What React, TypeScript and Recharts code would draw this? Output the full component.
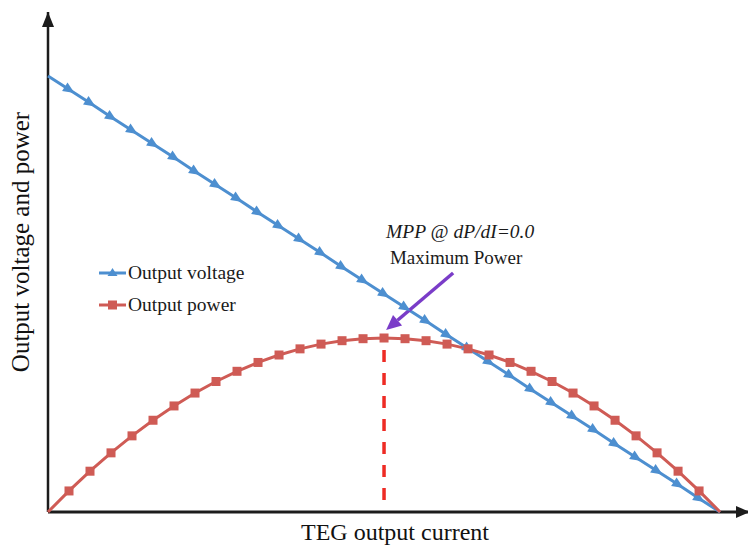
import { LineChart, Line, XAxis, YAxis, ReferenceLine, ReferenceDot, Legend } from "recharts";

// TEG characteristic: current steps (arbitrary units), voltage falls linearly, power is a parabola
const current = [
  0, 1, 2, 3, 4, 5, 6, 7, 8, 9, 10, 11, 12, 13, 14, 15, 16, 17, 18, 19, 20, 21, 22, 23, 24, 25, 26, 27, 28, 29,
  30, 31, 32,
];
const voltage = [
  87.2, 84.5, 81.8, 79.0, 76.3, 73.6, 70.9, 68.1, 65.4, 62.7, 59.9, 57.2, 54.5, 51.8, 49.0, 46.3, 43.6, 40.9,
  38.2, 35.4, 32.7, 30.0, 27.3, 24.5, 21.8, 19.1, 16.4, 13.6, 10.9, 8.2, 5.5, 2.7, 0,
];
const power = [
  0, 4.21, 8.16, 11.83, 15.23, 18.35, 21.21, 23.79, 26.1, 28.14, 29.91, 31.4, 32.63, 33.58, 34.26, 34.66, 34.8,
  34.66, 34.26, 33.58, 32.63, 31.4, 29.91, 28.14, 26.1, 23.79, 21.21, 18.35, 15.23, 11.83, 8.16, 4.21, 0,
];
const seriesOrder = ["voltage", "power"];

const mppCurrent = 16;
const mppPower = 34.8;

const data = current.map((c, i) => ({ current: c, voltage: voltage[i], power: power[i] }));

const BLUE = "#4d8fd0";
const RED = "#cf5b55";
const PURPLE = "#7a3cc8";
const AXIS = "#1c1c1c";
const FONT = "'Liberation Serif', 'Times New Roman', serif";

const lastIndex = current.length - 1;

const TriangleDot = (props: any) => {
  const { cx, cy, index } = props;
  if (index === 0 || index === lastIndex || cx == null) return <g key={`v${index}`} />;
  return (
    <polygon
      key={`v${index}`}
      points="6.5,0 -5,-5 -5,5"
      fill={BLUE}
      transform={`translate(${cx},${cy}) rotate(33)`}
    />
  );
};

const SquareDot = (props: any) => {
  const { cx, cy, index } = props;
  if (index === 0 || index === lastIndex || cx == null) return <g key={`p${index}`} />;
  return <rect key={`p${index}`} x={cx - 4.5} y={cy - 4.5} width={9} height={9} fill={RED} />;
};

const UpArrowHead = (props: any) => (
  <polygon points={`${props.cx},${props.cy} ${props.cx - 6},${props.cy + 15} ${props.cx + 6},${props.cy + 15}`} fill={AXIS} />
);

const RightArrowHead = (props: any) => (
  <polygon points={`${props.cx + 2},${props.cy} ${props.cx - 12},${props.cy - 6} ${props.cx - 12},${props.cy + 6}`} fill={AXIS} />
);

// purple pointer from the caption down to the maximum power point
const MppPointer = (props: any) => {
  const { x1, y1, x2, y2 } = props;
  const ang = Math.atan2(y2 - y1, x2 - x1);
  const head = 15;
  const half = 7;
  const bx = x2 - head * Math.cos(ang);
  const by = y2 - head * Math.sin(ang);
  const nx = -Math.sin(ang);
  const ny = Math.cos(ang);
  return (
    <g>
      <line x1={x1} y1={y1} x2={bx} y2={by} stroke={PURPLE} strokeWidth={3.5} />
      <polygon
        points={`${x2},${y2} ${bx + nx * half},${by + ny * half} ${bx - nx * half},${by - ny * half}`}
        fill={PURPLE}
      />
      <text x={x1 + 7} y={y1 - 35} textAnchor="middle" fontFamily={FONT} fontSize={19.5} fontStyle="italic" fill="#1a1a1a">
        MPP @ dP/dI=0.0
      </text>
      <text x={x1 + 3} y={y1 - 9} textAnchor="middle" fontFamily={FONT} fontSize={19} fill="#1a1a1a">
        Maximum Power
      </text>
    </g>
  );
};

const LegendBox = (props: any) => {
  const items = [...(props.payload || [])].sort(
    (a: any, b: any) => seriesOrder.indexOf(a.dataKey) - seriesOrder.indexOf(b.dataKey)
  );
  return (
    <div style={{ fontFamily: FONT, fontSize: 19.5, color: "#1a1a1a" }}>
      {items.map((it: any) => (
        <div key={it.value} style={{ display: "flex", alignItems: "center", height: 32 }}>
          <svg width={29} height={12} style={{ marginRight: 1 }}>
            <line x1={1} y1={6} x2={28} y2={6} stroke={it.color} strokeWidth={3} />
            {it.dataKey === "voltage" ? (
              <polygon points="14.5,1 9.5,9 19.5,9" fill={it.color} />
            ) : (
              <rect x={10} y={1.5} width={9} height={9} fill={it.color} />
            )}
          </svg>
          <span>{it.value}</span>
        </div>
      ))}
    </div>
  );
};

export default function App() {
  return (
    <div style={{ position: "absolute", left: 0, top: 0, background: "#fff" }}>
      <LineChart width={748} height={546} data={data} margin={{ top: 12, right: 0, left: 0, bottom: 0 }}>
        <XAxis
          dataKey="current"
          type="number"
          domain={[0, 33.33]}
          axisLine={false}
          tick={false}
          tickLine={false}
          height={34}
          label={{ value: "TEG output current", position: "insideBottom", offset: 6, dx: -3, fontFamily: FONT, fontSize: 24, fill: "#111" }}
        />
        <YAxis
          type="number"
          domain={[0, 100]}
          axisLine={false}
          tick={false}
          tickLine={false}
          width={48}
          label={{ value: "Output voltage and power", angle: -90, position: "insideLeft", dx: 15, dy: -20, fontFamily: FONT, fontSize: 25, fill: "#111", style: { textAnchor: "middle" } }}
        />
        <Legend
          layout="vertical"
          align="center"
          verticalAlign="middle"
          content={<LegendBox />}
          wrapperStyle={{ position: "absolute", left: 98, top: 257, width: 220 }}
        />
        <ReferenceLine y={0} stroke={AXIS} strokeWidth={3} ifOverflow="visible" />
        <ReferenceLine x={0} stroke={AXIS} strokeWidth={2.5} ifOverflow="visible" />
        <ReferenceDot x={0} y={100} r={0} shape={UpArrowHead} ifOverflow="visible" />
        <ReferenceDot x={33.33} y={0} r={0} shape={RightArrowHead} ifOverflow="visible" />
        <ReferenceLine
          segment={[
            { x: mppCurrent, y: 2.4 },
            { x: mppCurrent, y: 33.4 },
          ]}
          stroke="#ee2b24"
          strokeWidth={3.5}
          strokeDasharray="12 11"
          ifOverflow="visible"
        />
        <Line
          dataKey="voltage"
          name="Output voltage"
          type="linear"
          stroke={BLUE}
          strokeWidth={3}
          dot={TriangleDot}
          activeDot={false}
          isAnimationActive={false}
        />
        <Line
          dataKey="power"
          name="Output power"
          type="linear"
          stroke={RED}
          strokeWidth={3}
          dot={SquareDot}
          activeDot={false}
          isAnimationActive={false}
        />
        <ReferenceLine
          segment={[
            { x: 19.29, y: 47.8 },
            { x: mppCurrent + 0.1, y: mppPower + 1.6 },
          ]}
          shape={MppPointer}
          ifOverflow="visible"
        />
      </LineChart>
    </div>
  );
}
